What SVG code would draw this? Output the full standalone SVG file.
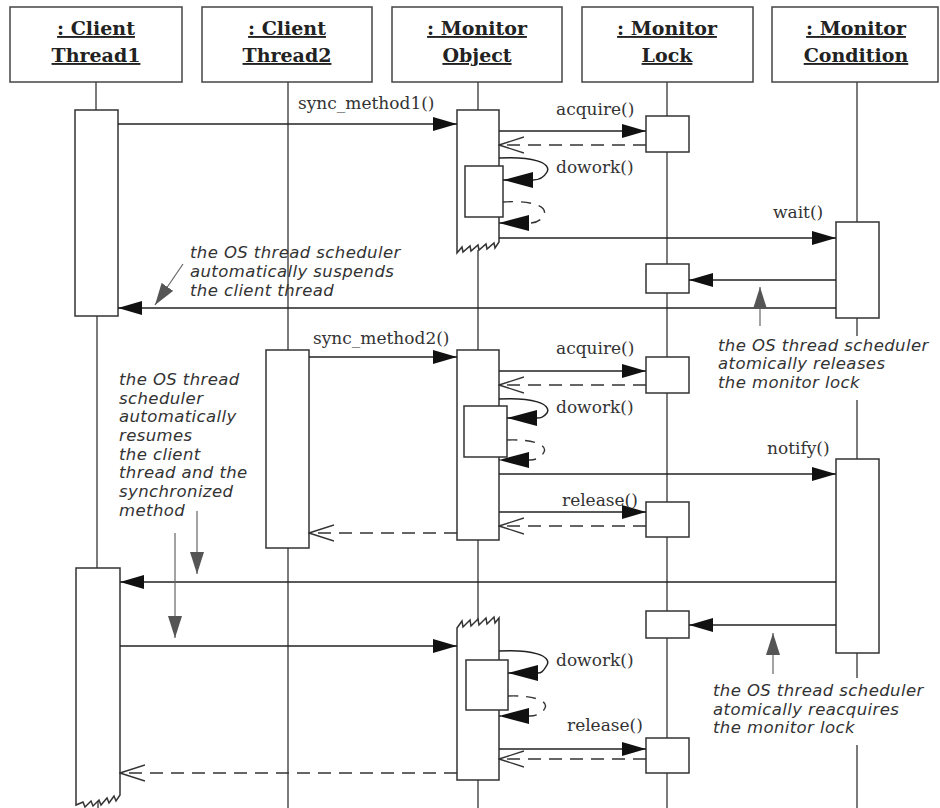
<svg xmlns="http://www.w3.org/2000/svg" width="940" height="808" viewBox="0 0 940 808">
<style>
.box{fill:#fff;stroke:#444;stroke-width:1.5}
.act{fill:#fff;stroke:#333;stroke-width:1.5}
.life{stroke:#444;stroke-width:1.4;fill:none}
.msg{stroke:#222;stroke-width:1.5;fill:none}
.ret{stroke:#333;stroke-width:1.4;fill:none;stroke-dasharray:13 8}
.ann{stroke:#666;stroke-width:1.2;fill:none}
.hd{font-family:"DejaVu Serif","Liberation Serif",serif;font-weight:bold;font-size:19px;fill:#222;text-anchor:middle;text-decoration:underline}
.lbl{font-family:"DejaVu Serif","Liberation Serif",serif;font-size:17px;fill:#333}
.note{font-family:"DejaVu Sans","Liberation Sans",sans-serif;font-style:italic;font-size:16.5px;letter-spacing:0.4px;fill:#333}
</style>
<defs>
<marker id="fa" viewBox="0 0 24 14" refX="24" refY="7" markerWidth="24" markerHeight="14" orient="auto" markerUnits="userSpaceOnUse"><path d="M0,0 L24,7 L0,14 z" fill="#111"/></marker>
<marker id="sa" viewBox="0 0 30 16" refX="30" refY="8" markerWidth="30" markerHeight="16" orient="auto" markerUnits="userSpaceOnUse"><path d="M0,0 L30,8 L0,16 z" fill="#111"/></marker>
<marker id="oa" viewBox="0 0 26 18" refX="25" refY="9" markerWidth="26" markerHeight="18" orient="auto" markerUnits="userSpaceOnUse"><path d="M0,1 L25,9 L0,17" fill="none" stroke="#333" stroke-width="1.4"/></marker>
<marker id="ga" viewBox="0 0 22 14" refX="22" refY="7" markerWidth="22" markerHeight="14" orient="auto" markerUnits="userSpaceOnUse"><path d="M0,0 L22,7 L0,14 z" fill="#555"/></marker>
</defs>

<g id="lifelines">
<path class="life" d="M96,82 V110 M97,316 V568 M98,798 V808"/>
<path class="life" d="M288,82 V350 M288,548 V808"/>
<path class="life" d="M478,82 V110 M478,250 V350 M478,540 V620 M478,780 V808"/>
<path class="life" d="M667,82 V808"/>
<path class="life" d="M857,82 V222 M857,318 V336 M857,400 V459 M857,653 V678 M857,745 V808"/>
</g>

<g id="client-thread1">
<rect class="box" x="10" y="7" width="172" height="75"/>
<text class="hd" x="96" y="35">: Client</text>
<text class="hd" x="96" y="62">Thread1</text>
<rect class="act" x="75" y="110" width="43" height="206"/>
<path class="act" d="M76,805 V568 H120 V795 L116,801 L114,796 L109,803 L107,798 L101,805 L99,800 L93,806 L91,801 L85,807 L83,802 L76,805 Z"/>
</g>

<g id="client-thread2">
<rect class="box" x="202" y="7" width="170" height="75"/>
<text class="hd" x="287" y="35">: Client</text>
<text class="hd" x="287" y="62">Thread2</text>
<rect class="act" x="266" y="350" width="43" height="198"/>
</g>

<g id="monitor-object">
<rect class="box" x="392" y="7" width="170" height="75"/>
<text class="hd" x="477" y="35">: Monitor</text>
<text class="hd" x="477" y="62">Object</text>
<path class="act" d="M457,253 V110 H499 V242 L495,248 L494,243 L487,249 L486,244 L479,250 L478,245 L471,251 L470,246 L463,252 L462,247 L457,253 Z"/>
<rect class="act" x="465" y="166" width="38" height="51"/>
<rect class="act" x="457" y="350" width="42" height="190"/>
<rect class="act" x="464" y="406" width="43" height="51"/>
<path class="act" d="M457,628 L462,621 L463,627 L470,620 L471,626 L478,619 L479,625 L486,618 L487,624 L494,617 L495,623 L499,618 V780 H457 Z"/>
<rect class="act" x="466" y="660" width="42" height="50"/>
</g>

<g id="monitor-lock">
<rect class="box" x="582" y="7" width="171" height="75"/>
<text class="hd" x="667" y="35">: Monitor</text>
<text class="hd" x="667" y="62">Lock</text>
<rect class="act" x="646" y="116" width="43" height="36"/>
<rect class="act" x="646" y="264" width="43" height="29"/>
<rect class="act" x="646" y="357" width="43" height="36"/>
<rect class="act" x="646" y="502" width="43" height="35"/>
<rect class="act" x="646" y="611" width="43" height="27"/>
<rect class="act" x="646" y="738" width="43" height="35"/>
</g>

<g id="monitor-condition">
<rect class="box" x="772" y="7" width="166" height="75"/>
<text class="hd" x="856" y="35">: Monitor</text>
<text class="hd" x="856" y="62">Condition</text>
<rect class="act" x="836" y="222" width="43" height="96"/>
<rect class="act" x="836" y="459" width="43" height="194"/>
</g>

<g id="connectors">
<path class="msg" d="M118,124 H457" marker-end="url(#fa)"/>
<path class="msg" d="M499,131 H646" marker-end="url(#fa)"/>
<path class="ret" d="M646,145 H499" marker-end="url(#oa)"/>
<path class="msg" d="M499,158 C532,156 552,163 547,172 C543,179 537,180 533,180 L503,180" marker-end="url(#sa)"/>
<path class="ret" style="stroke-dasharray:10 8" d="M503,202 C530,200 548,206 544,215 C541,221 535,223 530,223 L499,223" marker-end="url(#sa)"/>
<path class="msg" d="M499,238 H836" marker-end="url(#fa)"/>
<path class="msg" d="M836,280 H689" marker-end="url(#fa)"/>
<path class="msg" d="M836,308 H118" marker-end="url(#fa)"/>

<path class="msg" d="M309,357 H457" marker-end="url(#fa)"/>
<path class="msg" d="M499,371 H646" marker-end="url(#fa)"/>
<path class="ret" d="M646,385 H499" marker-end="url(#oa)"/>
<path class="msg" d="M499,399 C532,397 552,404 547,413 C543,418 540,418 537,418 L507,418" marker-end="url(#sa)"/>
<path class="ret" style="stroke-dasharray:10 8" d="M507,440 C530,439 548,444 544,452 C541,458 535,460 530,460 L499,460" marker-end="url(#sa)"/>
<path class="msg" d="M499,474 H836" marker-end="url(#fa)"/>
<path class="msg" d="M499,512 H646" marker-end="url(#fa)"/>
<path class="ret" d="M646,526 H499" marker-end="url(#oa)"/>
<path class="ret" d="M457,533 H309" marker-end="url(#oa)"/>

<path class="msg" d="M836,582 H120" marker-end="url(#fa)"/>
<path class="msg" d="M836,625 H689" marker-end="url(#fa)"/>
<path class="msg" d="M120,646 H457" marker-end="url(#fa)"/>
<path class="msg" d="M499,651 C532,649 552,656 547,665 C543,672 541,673 538,673 L508,673" marker-end="url(#sa)"/>
<path class="ret" style="stroke-dasharray:10 8" d="M508,696 C530,695 549,700 545,708 C542,714 535,716 530,716 L499,716" marker-end="url(#sa)"/>
<path class="msg" d="M499,749 H646" marker-end="url(#fa)"/>
<path class="ret" d="M646,759 H499" marker-end="url(#oa)"/>
<path class="ret" d="M457,773 H120" marker-end="url(#oa)"/>

<path class="ann" d="M183,264 L155,305" marker-end="url(#ga)"/>
<path class="ann" d="M760,326 V287" marker-end="url(#ga)"/>
<path class="ann" d="M197,511 V574" marker-end="url(#ga)"/>
<path class="ann" d="M175,533 V638" marker-end="url(#ga)"/>
<path class="ann" d="M773,674 V633" marker-end="url(#ga)"/>
</g>

<g id="labels">
<text class="lbl" x="298" y="109">sync_method1()</text>
<text class="lbl" x="556" y="115">acquire()</text>
<text class="lbl" x="556" y="173">dowork()</text>
<text class="lbl" x="773" y="218">wait()</text>
<text class="lbl" x="313" y="344">sync_method2()</text>
<text class="lbl" x="556" y="354">acquire()</text>
<text class="lbl" x="556" y="413">dowork()</text>
<text class="lbl" x="767" y="454">notify()</text>
<text class="lbl" x="562" y="506">release()</text>
<text class="lbl" x="556" y="666">dowork()</text>
<text class="lbl" x="567" y="731">release()</text>
</g>

<g id="notes">
<text class="note" x="190" y="258">the OS thread scheduler</text>
<text class="note" x="190" y="277">automatically suspends</text>
<text class="note" x="190" y="296">the client thread</text>
<text class="note" x="718" y="351">the OS thread scheduler</text>
<text class="note" x="718" y="369">atomically releases</text>
<text class="note" x="718" y="388">the monitor lock</text>
<text class="note" x="119" y="385">the OS thread</text>
<text class="note" x="119" y="404">scheduler</text>
<text class="note" x="119" y="422">automatically</text>
<text class="note" x="119" y="441">resumes</text>
<text class="note" x="119" y="460">the client</text>
<text class="note" x="119" y="478">thread and the</text>
<text class="note" x="119" y="497">synchronized</text>
<text class="note" x="119" y="516">method</text>
<text class="note" x="713" y="696">the OS thread scheduler</text>
<text class="note" x="713" y="715">atomically reacquires</text>
<text class="note" x="713" y="733">the monitor lock</text>
</g>
</svg>
